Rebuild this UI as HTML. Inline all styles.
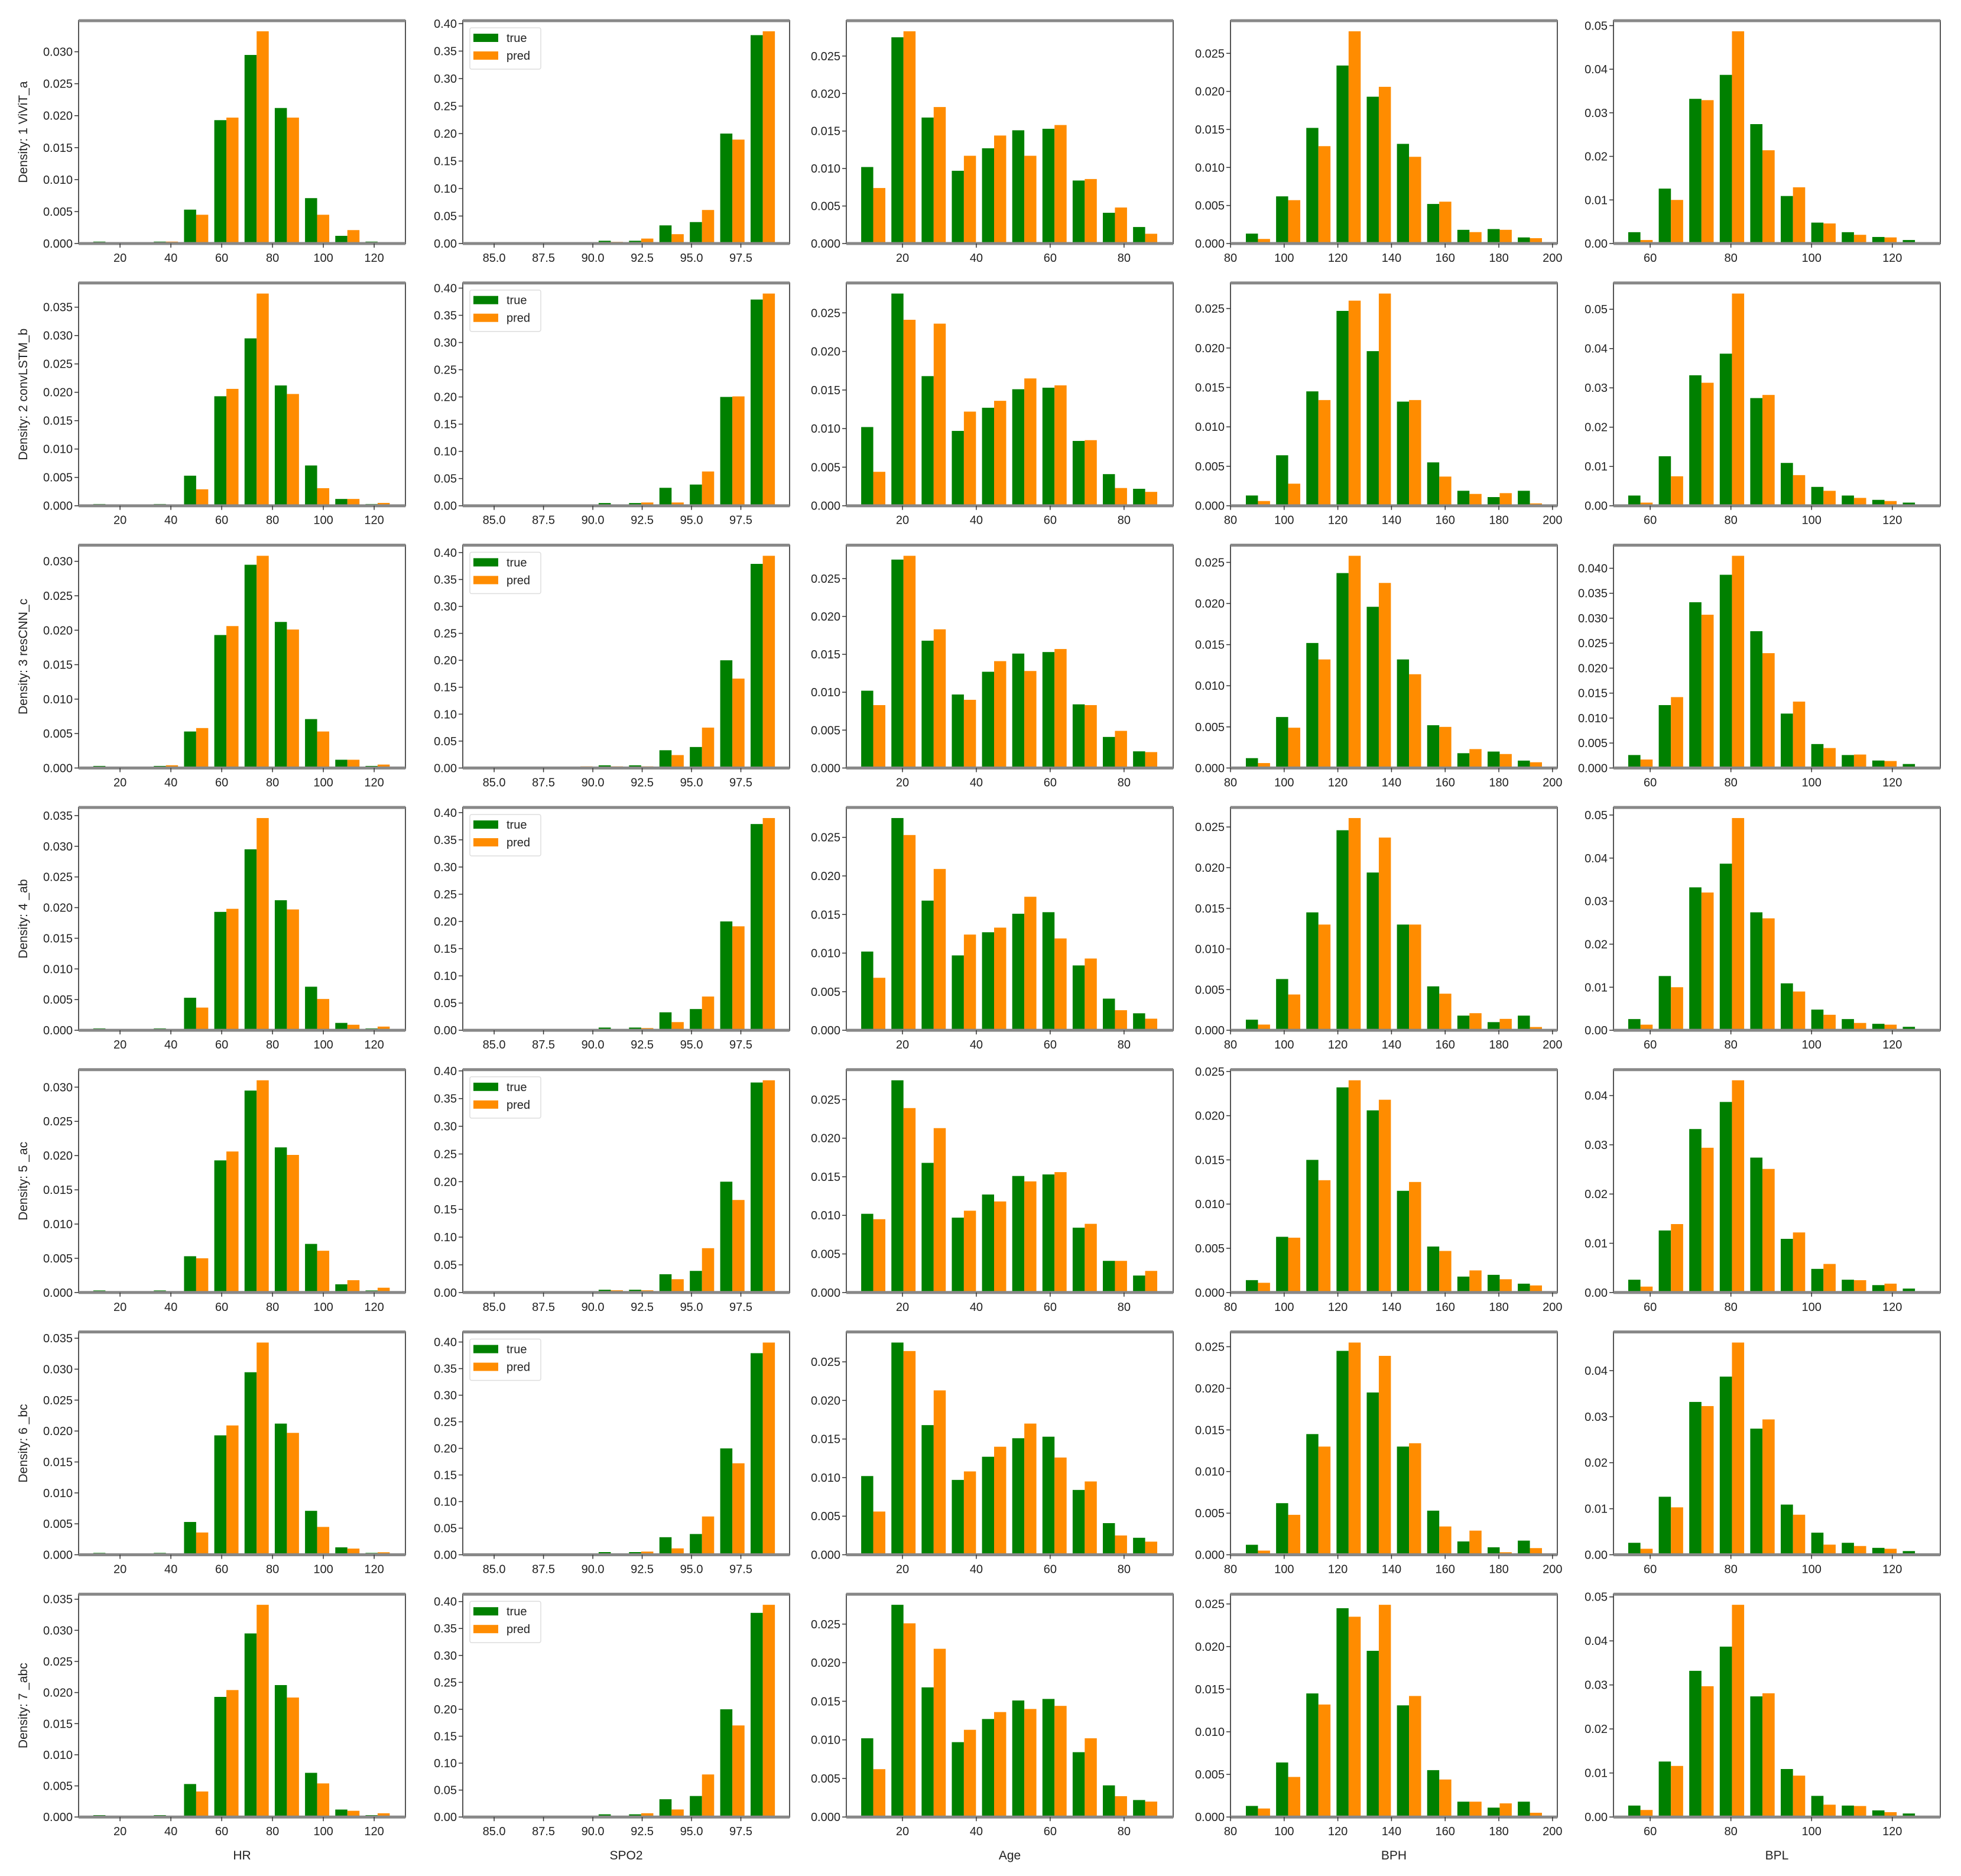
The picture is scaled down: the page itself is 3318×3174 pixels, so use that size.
<!DOCTYPE html>
<html><head><meta charset="utf-8"><style>
html,body{margin:0;padding:0;background:#fff;}
svg{display:block;font-family:"Liberation Sans",sans-serif;}
</style></head><body>
<svg id="chart" xmlns="http://www.w3.org/2000/svg" width="3318" height="3174" viewBox="0 0 3318 3174"></svg>
<script>
const rowLabels = ["Density: 1 ViViT_a","Density: 2 convLSTM_b","Density: 3 resCNN_c","Density: 4 _ab","Density: 5 _ac","Density: 6 _bc","Density: 7 _abc"];
const colNames = ["HR","SPO2","Age","BPH","BPL"];
const xDomains = [[3.7,132.3],[83.41,99.97],[4.8,93.3],[80,201.8],[50.9,131.9]];
const binStarts = [8.3,83.98,8.0,84.6,53.8];
const binWidths = [11.9,1.54,8.18,11.26,7.56];
const xTicks = [[20,40,60,80,100,120],[85,87.5,90,92.5,95,97.5],[20,40,60,80],[80,100,120,140,160,180,200],[60,80,100,120]];
const xTickDecimals = [0,1,0,0,0];
const yStepsBPL = [0.01,0.01,0.005,0.01,0.01,0.01,0.01];

const hrTrue = [0.0003,0,0.0003,0.0053,0.0193,0.0295,0.0212,0.0071,0.0012,0.0003];
const hrPred = [
[0,0,0.0003,0.0045,0.0197,0.0332,0.0197,0.0045,0.0021,0],
[0,0,0,0.0029,0.0206,0.0374,0.0197,0.0031,0.0012,0.0005],
[0,0,0.0004,0.0058,0.0206,0.0308,0.0201,0.0053,0.0012,0.0005],
[0,0,0,0.0037,0.0198,0.0346,0.0197,0.0051,0.0009,0.0006],
[0,0,0,0.0050,0.0206,0.0310,0.0201,0.0061,0.0018,0.0007],
[0,0,0,0.0036,0.0209,0.0343,0.0197,0.0045,0.0010,0.0004],
[0,0,0,0.0041,0.0204,0.0341,0.0192,0.0054,0.0010,0.0006]];
const spo2True = [0.002,0,0.002,0.002,0.005,0.005,0.033,0.039,0.200,0.379];
const spo2Pred = [
[0.002,0,0.002,0.002,0.003,0.009,0.017,0.061,0.189,0.386],
[0.001,0,0.001,0.002,0.001,0.006,0.006,0.063,0.201,0.390],
[0,0.001,0.002,0.003,0.003,0.003,0.024,0.075,0.166,0.394],
[0,0,0,0,0.001,0.004,0.015,0.062,0.191,0.390],
[0.001,0,0.001,0,0.004,0.004,0.024,0.080,0.167,0.383],
[0,0,0.002,0.002,0.002,0.006,0.012,0.072,0.172,0.399],
[0,0,0.001,0.001,0.002,0.007,0.014,0.079,0.170,0.394]];
const ageTrue = [0.0102,0.0275,0.0168,0.0097,0.0127,0.0151,0.0153,0.0084,0.0041,0.0022];
const agePred = [
[0.0074,0.0283,0.0182,0.0117,0.0144,0.0117,0.0158,0.0086,0.0048,0.0013],
[0.0044,0.0241,0.0236,0.0122,0.0136,0.0165,0.0156,0.0085,0.0023,0.0018],
[0.0083,0.0280,0.0183,0.0090,0.0141,0.0128,0.0157,0.0083,0.0049,0.0021],
[0.0068,0.0253,0.0209,0.0124,0.0133,0.0173,0.0119,0.0093,0.0026,0.0015],
[0.0095,0.0239,0.0213,0.0106,0.0118,0.0144,0.0156,0.0089,0.0041,0.0028],
[0.0056,0.0264,0.0213,0.0108,0.0140,0.0170,0.0126,0.0095,0.0025,0.0017],
[0.0062,0.0251,0.0218,0.0113,0.0136,0.0140,0.0144,0.0102,0.0027,0.0020]];
const bphTrue = [
[0.0013,0.0062,0.0152,0.0234,0.0193,0.0131,0.0052,0.0018,0.0019,0.0008],
[0.0013,0.0064,0.0145,0.0247,0.0196,0.0132,0.0055,0.0019,0.0011,0.0019],
[0.0012,0.0062,0.0152,0.0237,0.0196,0.0132,0.0052,0.0018,0.0020,0.0009],
[0.0013,0.0063,0.0145,0.0246,0.0194,0.0130,0.0054,0.0018,0.0010,0.0018],
[0.0014,0.0063,0.0150,0.0232,0.0206,0.0115,0.0052,0.0018,0.0020,0.0010],
[0.0012,0.0062,0.0145,0.0245,0.0195,0.0130,0.0053,0.0016,0.0009,0.0017],
[0.0013,0.0064,0.0145,0.0245,0.0195,0.0131,0.0055,0.0018,0.0011,0.0018]];
const bphPred = [
[0.0006,0.0057,0.0128,0.0279,0.0206,0.0114,0.0055,0.0015,0.0018,0.0007],
[0.0006,0.0028,0.0134,0.0260,0.0269,0.0134,0.0037,0.0015,0.0016,0.0003],
[0.0006,0.0049,0.0132,0.0258,0.0225,0.0114,0.0050,0.0023,0.0017,0.0007],
[0.0007,0.0044,0.0130,0.0261,0.0237,0.0130,0.0045,0.0021,0.0014,0.0004],
[0.0011,0.0062,0.0127,0.0240,0.0218,0.0125,0.0047,0.0025,0.0015,0.0008],
[0.0005,0.0048,0.0130,0.0255,0.0239,0.0134,0.0034,0.0029,0.0003,0.0008],
[0.0010,0.0047,0.0132,0.0235,0.0249,0.0142,0.0044,0.0018,0.0016,0.0005]];
const bplTrue = [0.0026,0.0126,0.0332,0.0387,0.0274,0.0109,0.0048,0.0026,0.0015,0.0008];
const bplPred = [
[0.0008,0.0100,0.0329,0.0487,0.0214,0.0129,0.0046,0.0020,0.0014,0],
[0.0008,0.0075,0.0313,0.0540,0.0282,0.0078,0.0038,0.0020,0.0012,0],
[0.0017,0.0142,0.0307,0.0425,0.0230,0.0133,0.0040,0.0027,0.0014,0.0002],
[0.0013,0.0100,0.0320,0.0493,0.0260,0.0090,0.0036,0.0017,0.0013,0],
[0.0012,0.0139,0.0294,0.0431,0.0251,0.0122,0.0058,0.0025,0.0018,0],
[0.0013,0.0103,0.0323,0.0461,0.0294,0.0087,0.0022,0.0019,0.0013,0],
[0.0016,0.0116,0.0297,0.0482,0.0281,0.0094,0.0028,0.0025,0.0011,0]];

const NS = "http://www.w3.org/2000/svg";
const svg = document.getElementById('chart');
function mk(tag, attrs, parent){
  const e = document.createElementNS(NS, tag);
  for (const k in attrs) e.setAttribute(k, attrs[k]);
  (parent||svg).appendChild(e);
  return e;
}
const panelLeft = [133,783,1432,2082,2730];
const PW = 553, PH = 377, top0 = 35, pitch = 443.7;
const GREEN = "#008000", ORANGE = "#ff8c00";

function seriesFor(c, r){
  if (c===0) return [hrTrue, hrPred[r]];
  if (c===1) return [spo2True, spo2Pred[r]];
  if (c===2) return [ageTrue, agePred[r]];
  if (c===3) return [bphTrue[r], bphPred[r]];
  return [bplTrue, bplPred[r]];
}

for (let r=0; r<7; r++){
  const T = top0 + r*pitch, B = T + PH;
  for (let c=0; c<5; c++){
    const L = panelLeft[c];
    const g = mk('g', {});
    
    
    const [tv, pv] = seriesFor(c, r);
    const ymax = Math.max(...tv, ...pv) * 1.05;
    const [x0, x1] = xDomains[c];
    const xs = v => L + (v - x0) / (x1 - x0) * PW;
    const ys = v => B - v / ymax * PH;
    const w = binWidths[c];
    for (let i=0; i<tv.length; i++){
      const s = binStarts[c] + i*w;
      const bt = mk('rect', {x: xs(s+0.1*w), y: ys(tv[i]), width: xs(s+0.5*w)-xs(s+0.1*w), height: B - ys(tv[i]), fill: GREEN}, g);
      
      
      const bp = mk('rect', {x: xs(s+0.5*w), y: ys(pv[i]), width: xs(s+0.9*w)-xs(s+0.5*w), height: B - ys(pv[i]), fill: ORANGE}, g);
      
      
    }
    mk('rect', {x: L, y: T, width: PW, height: PH, fill: 'none', stroke: '#555', 'stroke-width': 2}, g);
    mk('line', {x1: L, x2: L+PW, y1: T, y2: T, stroke: '#888', 'stroke-width': 5}, g);
    mk('line', {x1: L, x2: L+PW, y1: B, y2: B, stroke: '#888', 'stroke-width': 5}, g);
    let step = [0.005,0.05,0.005,0.005,0.01][c];
    if (c===4) step = yStepsBPL[r];
    const dec = step >= 0.01 ? 2 : 3;
    for (let k=0; k*step <= ymax + 1e-9; k++){
      const v = k*step, y = ys(v);
      if (y < T - 1) break;
      mk('line', {x1: L-7, x2: L, y1: y, y2: y, stroke: '#333', 'stroke-width': 1.5}, g);
      const t = mk('text', {x: L-10, y: y+7, 'text-anchor': 'end', 'font-size': 20, fill: '#222'}, g);
      t.textContent = v.toFixed(dec);
      
      
    }
    xTicks[c].forEach(v => {
      const x = xs(v);
      mk('line', {x1: x, x2: x, y1: B, y2: B+7, stroke: '#333', 'stroke-width': 1.5}, g);
      const t = mk('text', {x: x, y: B+31, 'text-anchor': 'middle', 'font-size': 20, fill: '#222'}, g);
      t.textContent = v.toFixed(xTickDecimals[c]);
      
      
    });
    if (c===1){
      const lg = mk('g', {}, g);
      
      
      mk('rect', {x: L+12, y: T+12, width: 120, height: 70, fill: '#fff', stroke: '#ddd', 'stroke-width': 1.5, rx: 3}, lg);
      mk('rect', {x: L+18, y: T+22, width: 42, height: 14, fill: GREEN}, lg);
      mk('rect', {x: L+18, y: T+52, width: 42, height: 14, fill: ORANGE}, lg);
      const t1 = mk('text', {x: L+74, y: T+36, 'font-size': 20, fill: '#222'}, lg);
      t1.textContent = 'true';
      
      
      const t2 = mk('text', {x: L+74, y: T+66, 'font-size': 20, fill: '#222'}, lg);
      t2.textContent = 'pred';
      
      
    }
    if (c===0){
      const yl = mk('text', {x: 0, y: 0, 'text-anchor': 'middle', 'font-size': 21, fill: '#222', transform: 'translate(46,' + (T+PH/2) + ') rotate(-90)'}, g);
      yl.textContent = rowLabels[r];
      
      
    }
    if (r===6){
      const xl = mk('text', {x: L+PW/2, y: B+72, 'text-anchor': 'middle', 'font-size': 21, fill: '#222'}, g);
      xl.textContent = colNames[c];
      
      
    }
  }
}
</script>
</body></html>
